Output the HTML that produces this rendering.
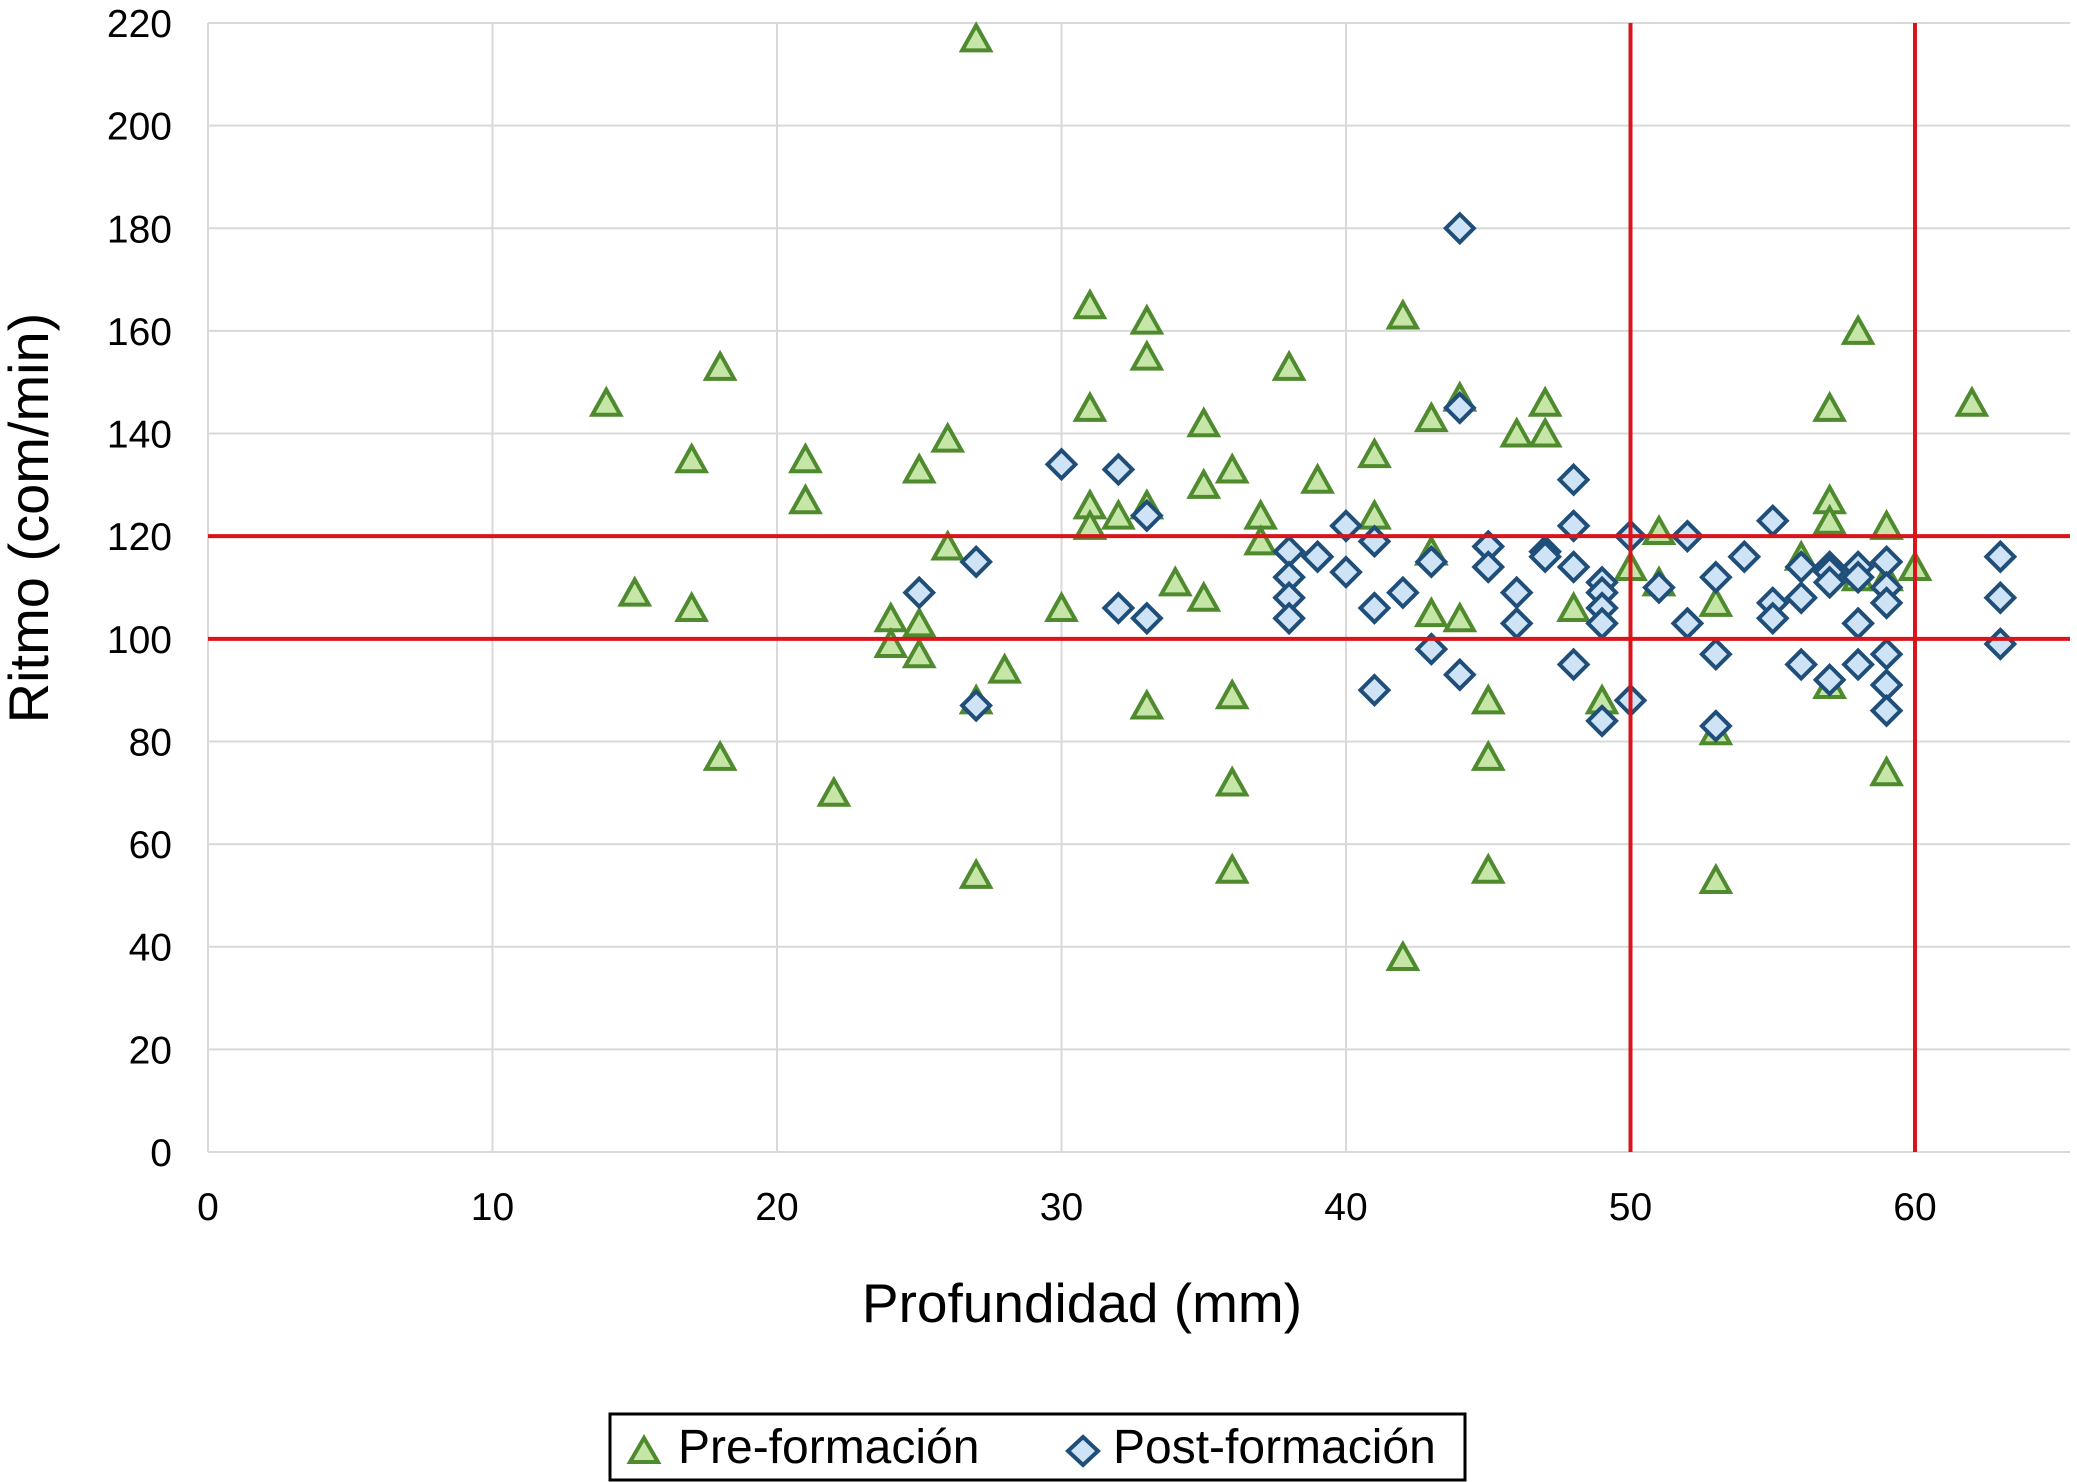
<!DOCTYPE html>
<html><head><meta charset="utf-8"><style>
html,body{margin:0;padding:0;background:#fff;}
svg{display:block;font-family:"Liberation Sans",Arial,sans-serif;}
</style></head><body>
<svg id="chart" width="2077" height="1482" viewBox="0 0 2077 1482" xmlns="http://www.w3.org/2000/svg">
<g id="grid"></g>
<g id="yticks"></g>
<g id="xticks"></g>
<g id="pre"></g>
<g id="post"></g>
<g id="refs"></g>
<text x="1082" y="1322" font-size="55" text-anchor="middle" fill="#000">Profundidad (mm)</text>
<text transform="translate(48,518) rotate(-90)" font-size="56" text-anchor="middle" fill="#000">Ritmo (com/min)</text>
<g>
<rect x="610" y="1414" width="855" height="66" fill="#fff" stroke="#000" stroke-width="3"/>
<g>
<polygon points="630,1462 644,1438 658,1462" fill="#c6e6a8" stroke="#4f8a2f" stroke-width="4"/>
<text x="678" y="1463" font-size="48" fill="#000">Pre-formación</text>
</g>
<g>
<polygon points="1083,1437 1098,1451 1083,1465 1068,1451" fill="#cfe3f7" stroke="#1f4e79" stroke-width="4"/>
<text x="1113" y="1463" font-size="48" fill="#000">Post-formación</text>
</g>
</g>
</svg>
<script>
const xTicks=[0,10,20,30,40,50,60];
const yTicks=[0,20,40,60,80,100,120,140,160,180,200,220];
const preX=[14,15,17,17,18,18,21,21,22,24,24,25,25,25,26,26,27,27,27,28,30,31,31,31,31,32,33,33,33,33,34,35,35,35,36,36,36,36,37,37,38,39,41,41,42,42,43,43,43,44,44,45,45,45,46,47,47,48,49,50,51,51,53,53,53,56,57,57,57,57,58,58,59,59,59,60,62];
const preY=[146,109,135,106,153,77,135,127,70,104,99,133,103,97,139,118,217,88,54,94,106,165,145,126,122,124,162,155,126,87,111,142,130,108,133,89,72,55,124,119,153,131,136,124,163,38,143,117,105,147,104,88,77,55,140,146,140,106,88,114,121,111,107,82,53,116,145,127,123,91,160,112,122,112,74,114,146];
const postX=[25,27,27,30,32,32,33,33,38,38,38,38,39,40,40,41,41,41,42,43,43,44,44,44,45,45,46,46,47,47,48,48,48,48,49,49,49,49,49,50,50,51,52,52,53,53,53,54,55,55,55,56,56,56,57,57,57,57,58,58,58,58,59,59,59,59,59,59,63,63,63];
const postY=[109,115,87,134,133,106,124,104,117,112,108,104,116,122,113,119,106,90,109,115,98,180,145,93,118,114,109,103,117,116,131,122,114,95,111,109,106,103,84,120,88,110,120,103,112,97,83,116,123,107,104,114,108,95,114,113,111,92,114,112,103,95,115,110,107,97,91,86,116,108,99];
const refX=[50,60];
const refY=[100,120];

const NS="http://www.w3.org/2000/svg";
const X0=208,XS=(1915-208)/60,Y0=1152,YS=(1152-23)/220,XR=2070,YT=23;
const sx=v=>X0+v*XS, sy=v=>Y0-v*YS;
function mk(tag,attrs,parent){const e=document.createElementNS(NS,tag);for(const k in attrs)e.setAttribute(k,attrs[k]);parent.appendChild(e);return e;}
const grid=document.getElementById('grid');
for(const t of yTicks){
  const l=mk('line',{x1:X0,x2:XR,y1:sy(t),y2:sy(t),stroke:'#d9d9d9','stroke-width':2},grid);
  
  
  const tx=mk('text',{x:172,y:sy(t)+14,'font-size':39,'text-anchor':'end',fill:'#000'},document.getElementById('yticks'));
  tx.textContent=t;
  
  
}
for(const t of xTicks){
  const l=mk('line',{x1:sx(t),x2:sx(t),y1:YT,y2:Y0,stroke:'#d9d9d9','stroke-width':2},grid);
  
  
  const tx=mk('text',{x:sx(t),y:1220,'font-size':39,'text-anchor':'middle',fill:'#000'},document.getElementById('xticks'));
  tx.textContent=t;
  
  
}
const pre=document.getElementById('pre');
preX.forEach((x,i)=>{const cx=sx(x),cy=sy(preY[i]);
  const p=mk('polygon',{points:`${cx-14},${cy+12} ${cx},${cy-13} ${cx+14},${cy+12}`,fill:'#c6e6a8',stroke:'#4f8a2f','stroke-width':4},pre);
  
  
});
const post=document.getElementById('post');
postX.forEach((x,i)=>{const cx=sx(x),cy=sy(postY[i]);
  const p=mk('polygon',{points:`${cx},${cy-14} ${cx+14},${cy} ${cx},${cy+14} ${cx-14},${cy}`,fill:'#cfe3f7',stroke:'#1f4e79','stroke-width':4},post);
  
  
});
const refs=document.getElementById('refs');
for(const v of refX){const l=mk('line',{x1:sx(v),x2:sx(v),y1:YT,y2:Y0,stroke:'#d9141b','stroke-width':4},refs);
  
  }
for(const v of refY){const l=mk('line',{x1:X0,x2:XR,y1:sy(v),y2:sy(v),stroke:'#d9141b','stroke-width':4},refs);
  
  }
</script>
</body></html>
